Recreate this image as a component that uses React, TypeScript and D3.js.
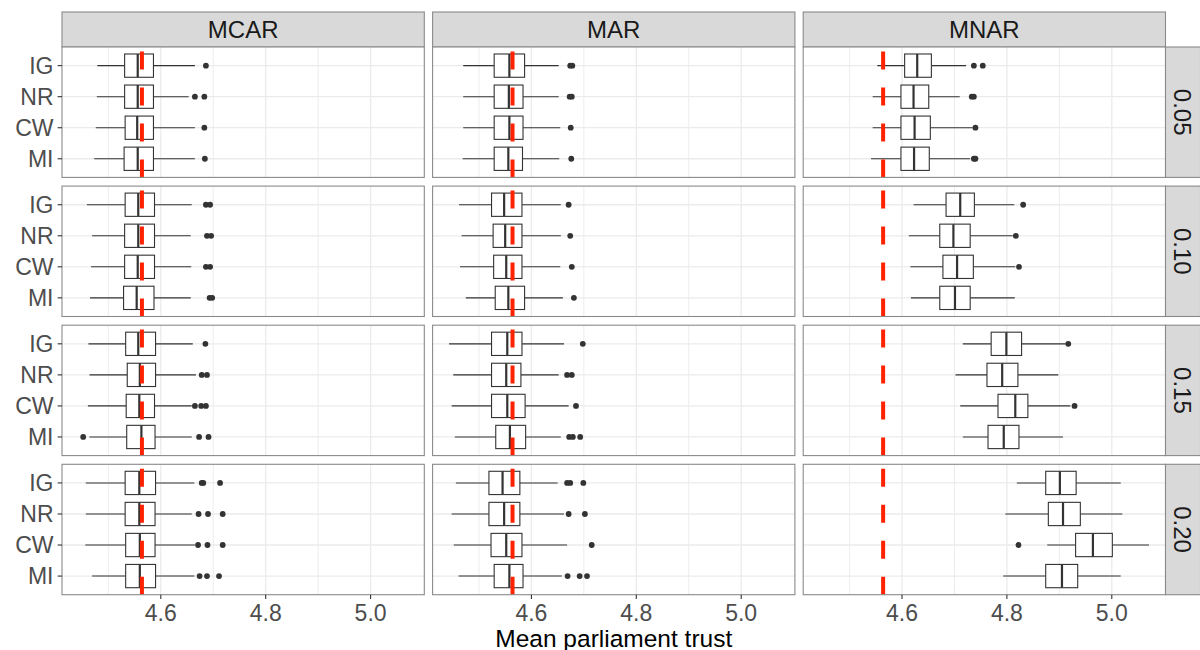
import React from "react";
import * as d3 from "d3";

const mechanisms = ["MCAR", "MAR", "MNAR"];
const rates = ["0.05", "0.10", "0.15", "0.20"];
const methods = ["IG", "NR", "CW", "MI"];
const xTicks = [4.6, 4.8, 5.0];
const xMinorTicks = [4.5, 4.7, 4.9];
const trueValue = 4.564;
const xTitle = "Mean parliament trust";

// [lower whisker, Q1, median, Q3, upper whisker], rows: rate x method (IG, NR, CW, MI)
const mcarStats = [
  [4.479, 4.531, 4.556, 4.586, 4.665], [4.478, 4.531, 4.556, 4.586, 4.653], [4.476, 4.532, 4.555, 4.586, 4.665], [4.473, 4.530, 4.556, 4.586, 4.665],
  [4.459, 4.532, 4.557, 4.588, 4.659], [4.469, 4.531, 4.557, 4.588, 4.657], [4.467, 4.531, 4.556, 4.588, 4.658], [4.465, 4.529, 4.554, 4.587, 4.657],
  [4.462, 4.533, 4.557, 4.590, 4.661], [4.464, 4.536, 4.560, 4.590, 4.667], [4.461, 4.534, 4.559, 4.588, 4.659], [4.464, 4.535, 4.563, 4.589, 4.659],
  [4.457, 4.532, 4.559, 4.590, 4.664], [4.457, 4.532, 4.559, 4.589, 4.659], [4.456, 4.533, 4.560, 4.589, 4.665], [4.469, 4.533, 4.560, 4.590, 4.664],
];
const mcarOutliers = [
  [4.686], [4.665, 4.683], [4.683], [4.684],
  [4.686, 4.694], [4.688, 4.696], [4.686, 4.694], [4.693, 4.698],
  [4.685], [4.678, 4.688], [4.665, 4.677, 4.686], [4.452, 4.673, 4.691],
  [4.678, 4.681, 4.713], [4.672, 4.690, 4.718], [4.671, 4.689, 4.718], [4.674, 4.688, 4.711],
];

const marStats = [
  [4.470, 4.529, 4.558, 4.587, 4.652], [4.470, 4.529, 4.557, 4.584, 4.652], [4.470, 4.529, 4.558, 4.584, 4.655], [4.469, 4.529, 4.556, 4.583, 4.653],
  [4.462, 4.524, 4.548, 4.582, 4.656], [4.467, 4.527, 4.550, 4.582, 4.656], [4.464, 4.528, 4.552, 4.582, 4.655], [4.475, 4.531, 4.556, 4.587, 4.660],
  [4.443, 4.524, 4.554, 4.582, 4.662], [4.451, 4.524, 4.552, 4.580, 4.652], [4.448, 4.524, 4.554, 4.588, 4.671], [4.454, 4.532, 4.559, 4.589, 4.656],
  [4.456, 4.519, 4.545, 4.578, 4.650], [4.448, 4.519, 4.548, 4.578, 4.662], [4.452, 4.523, 4.552, 4.582, 4.668], [4.461, 4.529, 4.558, 4.584, 4.658],
];
const marOutliers = [
  [4.674, 4.678], [4.673, 4.677], [4.675], [4.676],
  [4.671], [4.674], [4.677], [4.681],
  [4.698], [4.668, 4.677], [4.685], [4.672, 4.679, 4.693],
  [4.668, 4.674, 4.699], [4.671, 4.702], [4.715], [4.669, 4.692, 4.706],
];

const mnarStats = [
  [4.553, 4.605, 4.629, 4.656, 4.722], [4.544, 4.598, 4.622, 4.651, 4.710], [4.544, 4.598, 4.624, 4.654, 4.735], [4.541, 4.598, 4.623, 4.652, 4.730],
  [4.622, 4.684, 4.711, 4.738, 4.814], [4.613, 4.672, 4.698, 4.730, 4.811], [4.616, 4.678, 4.705, 4.736, 4.816], [4.617, 4.672, 4.701, 4.730, 4.815],
  [4.716, 4.770, 4.799, 4.828, 4.912], [4.702, 4.762, 4.791, 4.821, 4.898], [4.711, 4.783, 4.816, 4.840, 4.921], [4.716, 4.764, 4.794, 4.823, 4.907],
  [4.819, 4.874, 4.901, 4.932, 5.017], [4.797, 4.879, 4.907, 4.940, 5.020], [4.877, 4.931, 4.964, 5.001, 5.071], [4.793, 4.874, 4.905, 4.935, 5.017],
];
const mnarOutliers = [
  [4.737, 4.754], [4.733, 4.737], [4.740], [4.737, 4.740],
  [4.831], [4.817], [4.823], [],
  [4.917], [], [4.929], [],
  [], [], [4.822], [],
];

const statsByMech = [mcarStats, marStats, mnarStats];
const outliersByMech = [mcarOutliers, marOutliers, mnarOutliers];

const FONT = "'Liberation Sans', Arial, Helvetica, sans-serif";
const W = 1200;
const H = 650;
const panelLeft0 = 62;
const panelW = 362.3;
const colGap = 8.3;
const panelTop0 = 47;
const panelH = 130.4;
const rowGap = 8.7;
const stripH = 35;
const stripW = 35;
const borderCol = "#8a8a8a";
const gridCol = "#ebebeb";
const boxCol = "#333333";
const redCol = "#ff2200";

export default function App() {
  const allVals: number[] = [];
  statsByMech.forEach((m) => m.forEach((r) => allVals.push(...r)));
  outliersByMech.forEach((m) => m.forEach((r) => allVals.push(...r)));
  const lo = d3.min(allVals) as number;
  const hi = d3.max(allVals) as number;
  const pad = (hi - lo) * 0.05;
  const domain: [number, number] = [lo - pad, hi + pad];

  const panels: React.ReactNode[] = [];

  mechanisms.forEach((mech, ci) => {
    const left = panelLeft0 + ci * (panelW + colGap);
    const x = d3.scaleLinear().domain(domain).range([left, left + panelW]);

    // top strip
    panels.push(
      <g key={`strip-${mech}`}>
        <rect x={left} y={panelTop0 - stripH} width={panelW} height={stripH} fill="#d9d9d9" stroke={borderCol} strokeWidth={1.1} />
        <text x={left + panelW / 2} y={panelTop0 - stripH / 2} dy="0.36em" textAnchor="middle" fontSize={24} fill="#1a1a1a" fontFamily={FONT}>
          {mech}
        </text>
      </g>
    );

    rates.forEach((rate, ri) => {
      const top = panelTop0 + ri * (panelH + rowGap);
      const y = d3.scalePoint<string>().domain(methods).range([top, top + panelH]).padding(0.6);
      const step = y.step();
      const bh = step * 0.75;
      const clipId = `clip-${ci}-${ri}`;

      panels.push(
        <g key={`panel-${ci}-${ri}`}>
          <defs>
            <clipPath id={clipId}>
              <rect x={left} y={top} width={panelW} height={panelH} />
            </clipPath>
          </defs>
          <rect x={left} y={top} width={panelW} height={panelH} fill="white" />
          <g clipPath={`url(#${clipId})`}>
            {xMinorTicks.map((t) => (
              <line key={`mn${t}`} x1={x(t)} x2={x(t)} y1={top} y2={top + panelH} stroke={gridCol} strokeWidth={0.9} />
            ))}
            {xTicks.map((t) => (
              <line key={`mj${t}`} x1={x(t)} x2={x(t)} y1={top} y2={top + panelH} stroke={gridCol} strokeWidth={1.3} />
            ))}
            {methods.map((m) => (
              <line key={`h${m}`} x1={left} x2={left + panelW} y1={y(m)} y2={y(m)} stroke={gridCol} strokeWidth={1.3} />
            ))}
            {methods.map((m, mi) => {
              const s = statsByMech[ci][ri * 4 + mi];
              const outs = outliersByMech[ci][ri * 4 + mi];
              const cy = y(m) as number;
              return (
                <g key={`b${m}`}>
                  <line x1={x(s[0])} x2={x(s[1])} y1={cy} y2={cy} stroke={boxCol} strokeWidth={1.1} />
                  <line x1={x(s[3])} x2={x(s[4])} y1={cy} y2={cy} stroke={boxCol} strokeWidth={1.1} />
                  <rect x={x(s[1])} y={cy - bh / 2} width={x(s[3]) - x(s[1])} height={bh} fill="white" stroke={boxCol} strokeWidth={1.1} />
                  <line x1={x(s[2])} x2={x(s[2])} y1={cy - bh / 2} y2={cy + bh / 2} stroke={boxCol} strokeWidth={2.2} />
                  {outs.map((o, oi) => (
                    <circle key={oi} cx={x(o)} cy={cy} r={2.9} fill={boxCol} />
                  ))}
                </g>
              );
            })}
            <line
              x1={x(trueValue)}
              x2={x(trueValue)}
              y1={top + panelH}
              y2={top}
              stroke={redCol}
              strokeWidth={4}
              strokeDasharray="18 18"
            />
          </g>
          <rect x={left} y={top} width={panelW} height={panelH} fill="none" stroke={borderCol} strokeWidth={1.1} />
          {ci === 0 &&
            methods.map((m) => (
              <g key={`yl${m}`}>
                <line x1={left - 4.4} x2={left} y1={y(m)} y2={y(m)} stroke={boxCol} strokeWidth={1.1} />
                <text x={left - 8.5} y={y(m)} dy="0.36em" textAnchor="end" fontSize={23} fill="#4d4d4d" fontFamily={FONT}>
                  {m}
                </text>
              </g>
            ))}
          {ri === rates.length - 1 &&
            xTicks.map((t) => (
              <g key={`xl${t}`}>
                <line x1={x(t)} x2={x(t)} y1={top + panelH} y2={top + panelH + 4.4} stroke={boxCol} strokeWidth={1.1} />
                <text x={x(t)} y={top + panelH + 26} textAnchor="middle" fontSize={23} fill="#4d4d4d" fontFamily={FONT}>
                  {t.toFixed(1)}
                </text>
              </g>
            ))}
          {ci === mechanisms.length - 1 && (
            <g>
              <rect x={left + panelW} y={top} width={stripW} height={panelH} fill="#d9d9d9" stroke={borderCol} strokeWidth={1.1} />
              <text
                transform={`translate(${left + panelW + stripW / 2},${top + panelH / 2}) rotate(90)`}
                dy="0.36em"
                textAnchor="middle"
                fontSize={24}
                fill="#1a1a1a"
                fontFamily={FONT}
              >
                {rate}
              </text>
            </g>
          )}
        </g>
      );
    });
  });

  const plotCenter = panelLeft0 + (3 * panelW + 2 * colGap) / 2;

  return (
    <svg width={W} height={H} style={{ position: "absolute", left: 0, top: 0, background: "white" }}>
      <rect x={0} y={0} width={W} height={H} fill="white" />
      {panels}
      <text x={plotCenter} y={647} textAnchor="middle" fontSize={24.5} fill="#000" fontFamily={FONT}>
        {xTitle}
      </text>
    </svg>
  );
}
